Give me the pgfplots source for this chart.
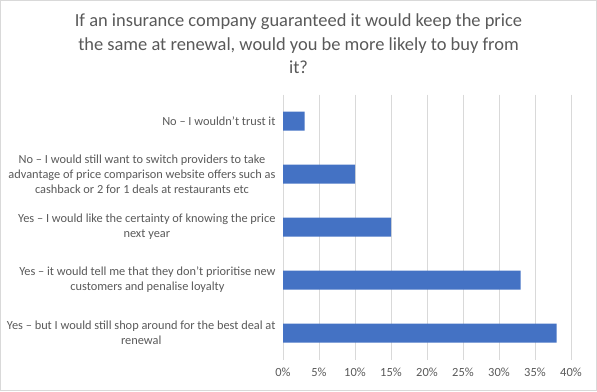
\documentclass[border=0pt]{standalone}
\usepackage{pgfplots}
\pgfplotsset{compat=1.18}
\usepackage{fontspec}
\setmainfont{Carlito}
\definecolor{barblue}{HTML}{4472C4}
\definecolor{txtgray}{HTML}{595959}
\definecolor{gridgray}{HTML}{D9D9D9}
\begin{document}
\begin{tikzpicture}[x=1bp,y=1bp]
\draw[gridgray, line width=0.75bp] (0.5,0.5) rectangle (596.5,390.5);
\node[align=center, text=txtgray, font=\fontsize{18.5}{23.5}\selectfont] at (298.5,347) {If an insurance company guaranteed it would keep the price\\ the same at renewal, would you be more likely to buy from\\ it?};
\begin{axis}[
 at={(283bp,296.5bp)}, anchor=north west,
 scale only axis, width=288bp, height=265bp,
 xbar, bar width=19bp,
 xmin=0, xmax=40, ymin=-0.5, ymax=4.5, y dir=reverse,
 ytick={0,1,2,3,4},
 yticklabels={
  {No – I wouldn’t trust it},
  {No – I would still want to switch providers to take\\advantage of price comparison website offers such as\\cashback or 2 for 1 deals at restaurants etc},
  {Yes – I would like the certainty of knowing the price\\next year},
  {Yes – it would tell me that they don’t prioritise new\\customers and penalise loyalty},
  {Yes – but I would still shop around for the best deal at\\renewal}},
 xtick={0,5,...,40},
 xticklabel={\pgfmathprintnumber{\tick}\%},
 axis line style={draw=none},
 major tick length=0pt,
 xmajorgrids, grid style={gridgray, line width=0.75bp},
 yticklabel style={align=center, font=\fontsize{12.4}{15}\selectfont, text=txtgray, xshift=-4bp},
 xticklabel style={font=\fontsize{12.5}{15}\selectfont, text=txtgray, yshift=-5bp},
 /pgf/number format/assume math mode=true,
]
\addplot[fill=barblue, draw=none] coordinates {(3,0) (10,1) (15,2) (33,3) (38,4)};
\end{axis}
\pgfresetboundingbox
\useasboundingbox (0,0) rectangle (597,391);
\end{tikzpicture}
\end{document}
